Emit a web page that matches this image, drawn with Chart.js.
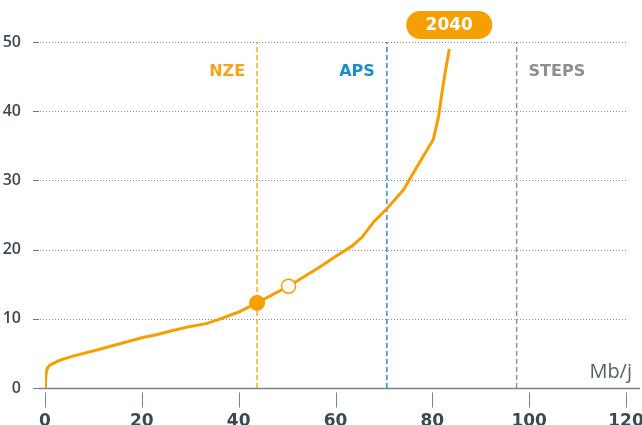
<!DOCTYPE html>
<html>
<head>
<meta charset="utf-8">
<script src="https://cdn.jsdelivr.net/npm/chart.js@4"></script>
<style>
  html, body { margin: 0; padding: 0; background: #fff; }
  canvas { display: block; }
</style>
</head>
<body>
<canvas id="chart" width="642" height="425"></canvas>
<script>
// supply curve (x = Mb/j, y = cost)
const curveX = [0, 0.1, 0.3, 0.6, 1.0, 3.0, 5.8, 11.3, 16, 20.2, 23, 26.4, 30, 33.3, 35.5, 37.4, 40.1, 43.8, 50.3, 56.6, 60, 63.4, 65.5, 67.9, 70.6, 74.1, 77.2, 80.2, 81.3, 82.3, 83, 83.5];
const curveY = [0, 1.2, 2.4, 3.0, 3.3, 4.0, 4.6, 5.6, 6.5, 7.3, 7.7, 8.3, 8.9, 9.3, 9.8, 10.3, 11.0, 12.3, 14.7, 17.4, 19.0, 20.5, 21.8, 24.0, 25.9, 28.7, 32.4, 35.9, 39.3, 44.1, 47, 49];

// markers
const filledPoint = [43.8, 12.3];
const openPoint = [50.3, 14.7];

// scenario demand lines
const scenarioNames = ["NZE", "APS", "STEPS"];
const scenarioX = [43.8, 70.6, 97.4];
const scenarioColors = ["#f5a31a", "#1d8ccc", "#8e8e8e"];

const xTicks = [0, 20, 40, 60, 80, 100, 120];
const yTicks = [0, 10, 20, 30, 40, 50];
const yearLabel = "2040";
const unitLabel = "Mb/j";

const ORANGE = "#f59f00";
const TEXT = "#3b4a51";
const FONT = "'DejaVu Sans', sans-serif";
const FONT2 = "'Open Sans', sans-serif";

const curveData = curveX.map((x, i) => ({ x: x, y: curveY[i] }));

const scenarioSets = scenarioX.map((x, i) => ({
  data: [{ x: x, y: 0 }, { x: x, y: 50 }],
  showLine: true,
  borderColor: scenarioColors[i],
  borderWidth: 1.4,
  borderDash: [5, 3],
  pointRadius: 0,
  order: 5,
}));

const decorations = {
  id: "decorations",
  beforeDatasetsDraw(chart) {
    const ctx = chart.ctx;
    const area = chart.chartArea;
    const xs = chart.scales.x;
    const ys = chart.scales.y;
    ctx.save();
    // horizontal dotted grid + y tick marks
    yTicks.forEach((v) => {
      const py = Math.round(ys.getPixelForValue(v)) + 0.5;
      ctx.strokeStyle = "#6d7a80";
      ctx.lineWidth = 1;
      ctx.setLineDash([]);
      ctx.beginPath();
      ctx.moveTo(area.left - 12, py);
      ctx.lineTo(area.left - 6, py);
      ctx.stroke();
      if (v > 0) {
        ctx.strokeStyle = "#8a8a8a";
        ctx.setLineDash([1, 2]);
        ctx.beginPath();
        ctx.moveTo(area.left - 5, py);
        ctx.lineTo(area.right + 1, py);
        ctx.stroke();
      }
    });
    ctx.setLineDash([]);
    // x axis line
    const by = Math.round(ys.getPixelForValue(0)) + 0.5;
    ctx.strokeStyle = "#76858b";
    ctx.lineWidth = 1.5;
    ctx.beginPath();
    ctx.moveTo(area.left - 6, by);
    ctx.lineTo(640, by);
    ctx.stroke();
    // x tick marks
    ctx.lineWidth = 1;
    xTicks.forEach((v) => {
      const px = Math.round(xs.getPixelForValue(v)) + 0.5;
      ctx.beginPath();
      ctx.moveTo(px, by + 4);
      ctx.lineTo(px, by + 19);
      ctx.stroke();
    });
    ctx.restore();
  },
  afterDraw(chart) {
    const ctx = chart.ctx;
    const xs = chart.scales.x;
    ctx.save();
    // scenario labels
    ctx.font = "bold 16px " + FONT;
    ctx.textBaseline = "middle";
    scenarioNames.forEach((name, i) => {
      const px = xs.getPixelForValue(scenarioX[i]);
      ctx.fillStyle = scenarioColors[i];
      if (i < 2) {
        ctx.textAlign = "right";
        ctx.fillText(name, px - 12, 72);
      } else {
        ctx.textAlign = "left";
        ctx.fillText(name, px + 12, 72);
      }
    });
    // unit label
    ctx.font = "20px " + FONT2;
    ctx.fillStyle = "#55626a";
    ctx.textAlign = "right";
    ctx.fillText(unitLabel, 632, 372);
    // year pill above curve end
    const lastX = xs.getPixelForValue(curveX[curveX.length - 1]);
    const w = 86, h = 28, r = 14;
    const left = lastX - w / 2, top = 11;
    ctx.fillStyle = ORANGE;
    ctx.beginPath();
    ctx.roundRect(left, top, w, h, r);
    ctx.fill();
    ctx.fillStyle = "#fff";
    ctx.font = "bold 17px " + FONT;
    ctx.textAlign = "center";
    ctx.fillText(yearLabel, lastX, top + h / 2 + 1);
    ctx.restore();
  },
};

new Chart(document.getElementById("chart"), {
  type: "scatter",
  data: {
    datasets: [
      {
        data: curveData,
        showLine: true,
        borderColor: ORANGE,
        borderWidth: 3,
        borderJoinStyle: "round",
        pointRadius: 0,
        tension: 0,
        order: 3,
      },
      {
        data: [{ x: filledPoint[0], y: filledPoint[1] }],
        pointRadius: 7.5,
        pointBackgroundColor: ORANGE,
        pointBorderColor: ORANGE,
        pointBorderWidth: 1,
        order: 1,
      },
      {
        data: [{ x: openPoint[0], y: openPoint[1] }],
        pointRadius: 7,
        pointBackgroundColor: "#fff",
        pointBorderColor: ORANGE,
        pointBorderWidth: 1.5,
        order: 1,
      },
      ...scenarioSets,
    ],
  },
  options: {
    responsive: false,
    animation: false,
    layout: { padding: { top: 42, right: 16, left: 0, bottom: 0 } },
    plugins: {
      legend: { display: false },
      tooltip: { enabled: false },
    },
    scales: {
      x: {
        type: "linear",
        min: 0,
        max: 120,
        afterFit: (s) => {
          s.height = 37;
          s.paddingLeft = 0;
          s.paddingRight = 0;
        },
        afterBuildTicks: (s) => { s.ticks = xTicks.map((v) => ({ value: v })); },
        grid: { display: false },
        border: { display: false },
        ticks: {
          padding: 15,
          color: TEXT,
          font: { family: FONT, size: 17, weight: "bold" },
        },
      },
      y: {
        type: "linear",
        min: 0,
        max: 50,
        afterFit: (s) => {
          s.width = 45;
          s.paddingTop = 0;
          s.paddingBottom = 0;
        },
        afterBuildTicks: (s) => { s.ticks = yTicks.map((v) => ({ value: v })); },
        grid: { display: false },
        border: { display: false },
        ticks: {
          padding: 16,
          color: TEXT,
          font: { family: FONT2, size: 16, weight: "600" },
        },
      },
    },
  },
  plugins: [decorations],
});
</script>
</body>
</html>
